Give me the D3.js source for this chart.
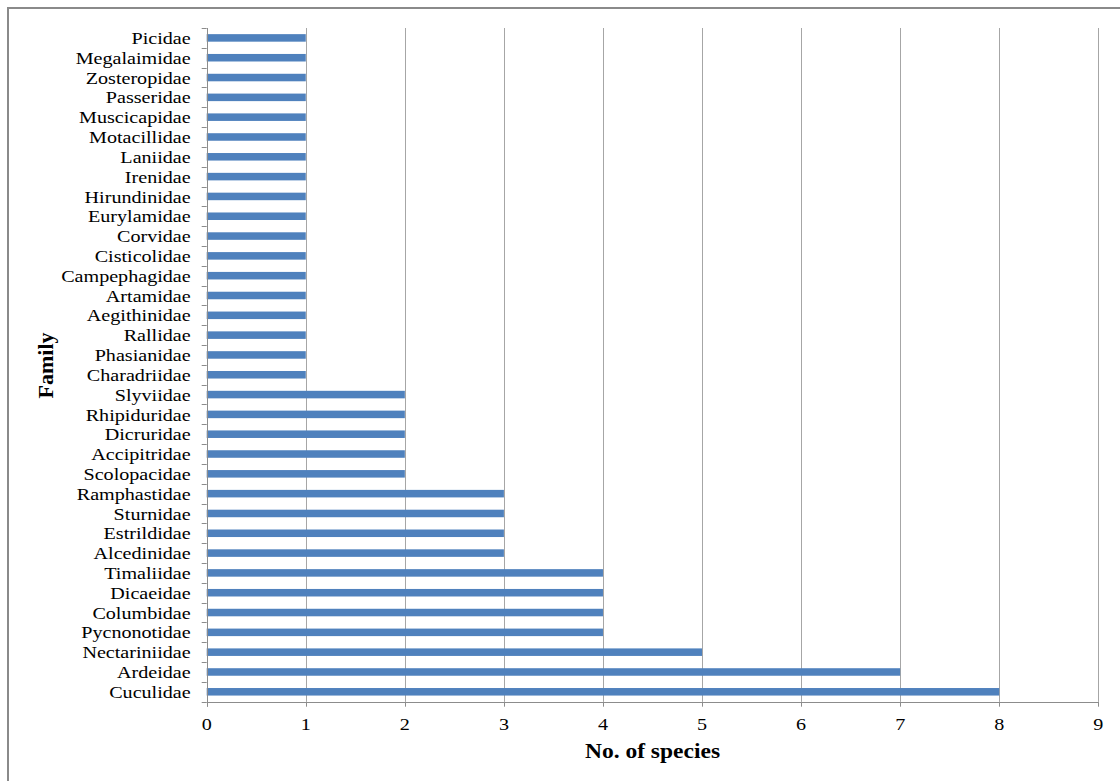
<!DOCTYPE html>
<html>
<head>
<meta charset="utf-8">
<script src="https://cdn.jsdelivr.net/npm/d3@7"></script>
<style>
html,body{margin:0;padding:0;background:#fff;}
svg{display:block;}
</style>
</head>
<body>
<svg id="chart" width="1120" height="781"></svg>
<script>
const families = ["Picidae","Megalaimidae","Zosteropidae","Passeridae","Muscicapidae","Motacillidae","Laniidae","Irenidae","Hirundinidae","Eurylamidae","Corvidae","Cisticolidae","Campephagidae","Artamidae","Aegithinidae","Rallidae","Phasianidae","Charadriidae","Slyviidae","Rhipiduridae","Dicruridae","Accipitridae","Scolopacidae","Ramphastidae","Sturnidae","Estrildidae","Alcedinidae","Timaliidae","Dicaeidae","Columbidae","Pycnonotidae","Nectariniidae","Ardeidae","Cuculidae"];
const species = [1,1,1,1,1,1,1,1,1,1,1,1,1,1,1,1,1,1,2,2,2,2,2,3,3,3,3,4,4,4,4,5,7,8];
const xTicks = [0,1,2,3,4,5,6,7,8,9];
const xTitle = "No. of species";
const yTitle = "Family";

(function(){
const svg = d3.select("#chart");
const pL = 206.7, pR = 1098.3, pT = 28, pB = 701.7;
const serif = "'Liberation Serif','Times New Roman',serif";
const sx = 1.15;

svg.append("rect").attr("x",8).attr("y",8).attr("width",1120).attr("height",781)
  .attr("fill","#fff").attr("stroke","#8a8a8a").attr("stroke-width",2);

const x = d3.scaleLinear().domain([0,9]).range([pL,pR]);
const y = d3.scaleBand().domain(families).range([pT,pB]).paddingInner(0.62).paddingOuter(0.31);
const yEdges = d3.scaleBand().domain(families).range([pT,pB]);

// gridlines
svg.append("g").selectAll("line").data(xTicks.slice(1)).join("line")
  .attr("x1",d=>Math.round(x(d))+0.5).attr("x2",d=>Math.round(x(d))+0.5)
  .attr("y1",pT).attr("y2",pB)
  .attr("stroke","#a6a6a6").attr("stroke-width",1);

// bars
svg.append("g").selectAll("rect").data(families).join("rect")
  .attr("x",x(0)).attr("y",d=>y(d))
  .attr("width",(d,i)=>x(species[i])-x(0))
  .attr("height",y.bandwidth())
  .attr("fill","#4f81bd");

// y axis line and ticks at band edges
const gy = svg.append("g");
gy.append("line").attr("x1",Math.round(pL)+0.5).attr("x2",Math.round(pL)+0.5)
  .attr("y1",pT).attr("y2",pB+5).attr("stroke","#8c8c8c");
const edges = families.map(f=>yEdges(f)).concat([pB]);
gy.selectAll("line.t").data(edges).join("line").attr("class","t")
  .attr("x1",pL-5).attr("x2",pL).attr("y1",d=>Math.round(d)+0.5).attr("y2",d=>Math.round(d)+0.5)
  .attr("stroke","#8c8c8c");
gy.selectAll("text").data(families).join("text")
  .attr("transform",d=>`translate(${pL-16},${yEdges(d)+yEdges.bandwidth()/2}) scale(${sx},1)`)
  .attr("dy","0.35em").attr("text-anchor","end")
  .attr("font-family",serif).attr("font-size",17.5).attr("fill","#000")
  .text(d=>d);

// x axis
const gx = svg.append("g");
gx.append("line").attr("x1",pL).attr("x2",pR+0.5)
  .attr("y1",Math.round(pB)+0.5).attr("y2",Math.round(pB)+0.5).attr("stroke","#8c8c8c");
gx.selectAll("line.t").data(xTicks).join("line").attr("class","t")
  .attr("x1",d=>Math.round(x(d))+0.5).attr("x2",d=>Math.round(x(d))+0.5)
  .attr("y1",pB).attr("y2",pB+5).attr("stroke","#8c8c8c");
gx.selectAll("text").data(xTicks).join("text")
  .attr("transform",d=>`translate(${x(d)},730) scale(${sx},1)`)
  .attr("text-anchor","middle")
  .attr("font-family",serif).attr("font-size",17.5).attr("fill","#000")
  .text(d=>d);

// titles
svg.append("text").attr("transform",`translate(${(pL+pR)/2},758) scale(1.12,1)`).attr("text-anchor","middle")
  .attr("font-family",serif).attr("font-size",21).attr("font-weight","bold").text(xTitle);
svg.append("text").attr("transform",`translate(53,365.5) rotate(-90)`)
  .attr("text-anchor","middle")
  .attr("font-family",serif).attr("font-size",22).attr("font-weight","bold").text(yTitle);
})();
</script>
</body>
</html>
